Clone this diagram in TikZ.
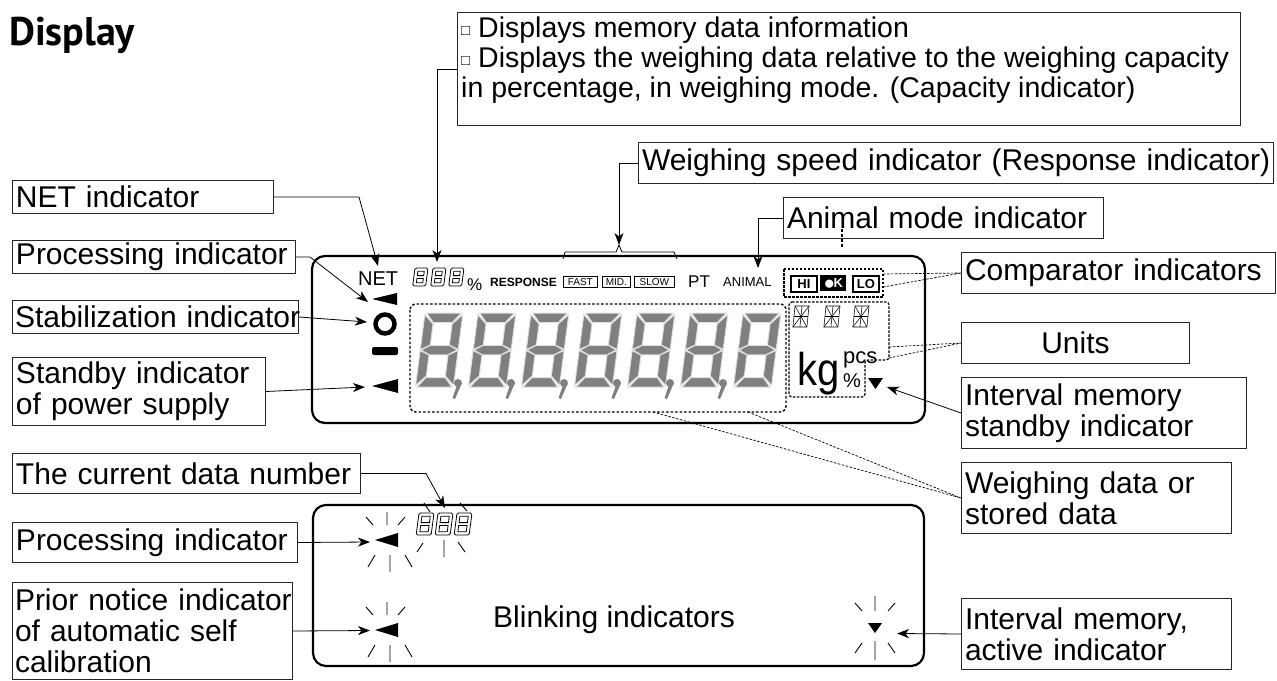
\documentclass[tikz,border=0pt]{standalone}
\usepackage{fontspec}
\usepackage{graphicx}
\setmainfont{Liberation Sans}
\newfontfamily\titlefont{PT Sans}
\usetikzlibrary{arrows.meta}
\newcommand\fs[1]{\fontsize{#1}{#1}\selectfont}
\newcommand\segpaths[1]{%
 \path[#1] (1.5,0) -- (36.5,0) -- (28.5,9.5) -- (9.5,9.5) -- cycle;
 \path[#1] (0,1.5) -- (9.5,11) -- (9.5,32) -- (0,36.5) -- cycle;
 \path[#1] (38,1.5) -- (38,36.5) -- (28.5,32) -- (28.5,11) -- cycle;
 \path[#1] (1,37) -- (9.5,32.25) -- (28.5,32.25) -- (37,37) -- (28.5,41.75) -- (9.5,41.75) -- cycle;
 \path[#1] (0,37.5) -- (9.5,42) -- (9.5,63) -- (0,72.5) -- cycle;
 \path[#1] (38,37.5) -- (38,72.5) -- (28.5,63) -- (28.5,42) -- cycle;
 \path[#1] (1.5,74) -- (9.5,64.5) -- (28.5,64.5) -- (36.5,74) -- cycle;}
\newcommand\bigdigit[2]{\begin{scope}[shift={(#1,#2)},xslant=0.13]\segpaths{seg}\end{scope}}
\newcommand\dcomma[1]{\fill[black!50] (#1,383) circle (4);
 \fill[black!50] (#1+3.5,384) -- (#1-3,399) -- (#1-5.5,398) -- (#1-1,385) -- cycle;}
\newcommand\hollow[4]{\begin{scope}[shift={(#1,#2)},xslant=0.13,line width=0.8pt]
 \draw[rounded corners=1.5pt] (0,0) rectangle (#3,#4);
 \draw (3.3,3.3) rectangle (#3-3.3,#4/2-1.4);
 \draw (3.3,#4/2+1.4) rectangle (#3-3.3,#4-3.3);\end{scope}}
\newcommand\starseg[2]{\begin{scope}[shift={(#1,#2)},xslant=0.1,line width=0.55pt]
 \draw (0,0) rectangle (14,21);
 \draw (0,10.5) -- (14,10.5) (7,0) -- (7,21);
 \draw (0,0) -- (7,10.5) -- (14,0) (0,21) -- (7,10.5) -- (14,21);\end{scope}}
\newcommand\burst[2]{\draw[ray] (#1-22,#2-23) -- (#1-15,#2-15) (#1-1,#2-28) -- (#1-1,#2-15)
 (#1+10,#2-15) -- (#1+17,#2-23) (#1-20,#2+27) -- (#1-13,#2+15) (#1+2,#2+15) -- (#1+2,#2+32)
 (#1+17,#2+15) -- (#1+24,#2+27);}
\newcommand\burstv[2]{\draw[ray] (#1-20,#2-24) -- (#1-13,#2-16) (#1,#2-31) -- (#1,#2-16)
 (#1+13,#2-16) -- (#1+20,#2-24) (#1-20,#2+26) -- (#1-13,#2+16) (#1,#2+14) -- (#1,#2+33)
 (#1+13,#2+16) -- (#1+20,#2+26);}
\begin{document}
\begin{tikzpicture}[x=1pt,y=-1pt,
 lbl/.style={draw=black!85, line width=1pt, anchor=north west, inner xsep=3.5pt, inner ysep=0pt, align=left, font=\fontsize{30}{31}\selectfont},
 con/.style={line width=0.8pt, -{Stealth[length=12pt,width=9pt,inset=3.5pt]}},
 dotl/.style={line width=0.7pt, dash pattern=on 2.5pt off 1.5pt},
 lcd/.style={line width=2.2pt, rounded corners=13pt},
 seg/.style={fill=black!50, draw=black!12, line width=1pt},
 ray/.style={line width=0.9pt},
 txt/.style={anchor=base west, inner sep=0pt},
 sbox/.style={draw, line width=0.6pt, inner sep=0pt, anchor=north west, font=\fs{10}},
 cmp/.style={inner sep=0pt, anchor=north west, minimum width=26pt, minimum height=16pt, font=\bfseries\fs{13}}]
\useasboundingbox (0,0) rectangle (1277,680);
% title
\node[txt, font=\titlefont\bfseries\fs{40}] (title) at (9,45) {Display};
% info box
\node[draw=black!85, line width=1pt, anchor=north west, minimum width=783pt, minimum height=113pt, inner sep=0pt] (info) at (457,12) {};
\node[anchor=north west, align=left, inner sep=0pt, font=\fontsize{28.5}{30}\selectfont] (infotext) at (461,17)
 {\raisebox{2pt}{\fs{15}□}\ Displays memory data information\\
  \raisebox{2pt}{\fs{15}□}\ Displays the weighing data relative to the weighing capacity\\
  in percentage, in weighing mode. (Capacity indicator)};
% right labels
\node[lbl, minimum width=635pt, minimum height=41pt, text width=628pt] (speed) at (638,142) {\mbox{Weighing speed indicator (Response indicator)}};
\node[lbl, minimum width=320pt, minimum height=41pt, text width=313pt] (animal) at (783,197) {\mbox{Animal mode indicator}};
\node[lbl, minimum width=314pt, minimum height=41pt, text width=307pt] (comp) at (961,252) {\mbox{Comparator indicators}};
\node[lbl, minimum width=228pt, minimum height=41pt, text width=221pt, align=center] (units) at (961,322) {Units};
\node[lbl, minimum width=285pt, minimum height=71pt, text width=278pt] (intsb) at (961,377) {\mbox{Interval memory}\\\mbox{standby indicator}};
\node[lbl, minimum width=270pt, minimum height=71pt, text width=263pt] (wdata) at (961,462) {\mbox{Weighing data or}\\\mbox{stored data}};
\node[lbl, minimum width=270pt, minimum height=71pt, text width=263pt] (intac) at (961,598) {\mbox{Interval memory,}\\\mbox{active indicator}};
% left labels
\node[lbl, minimum width=261pt, minimum height=33pt, text width=254pt] (netbox) at (12,180) {\mbox{NET indicator}};
\node[lbl, minimum width=283pt, minimum height=33pt, text width=276pt] (proc) at (12,240) {\mbox{Processing indicator}};
\node[lbl, minimum width=286pt, minimum height=33pt, text width=281pt, inner xsep=2.5pt] (stab) at (12,300) {\mbox{Stabilization indicator}};
\node[lbl, minimum width=253pt, minimum height=68pt, text width=246pt] (standby) at (12,357) {\mbox{Standby indicator}\\\mbox{of power supply}};
\node[lbl, minimum width=348pt, minimum height=40pt, text width=341pt] (cur) at (12,453) {\mbox{The current data number}};
\node[lbl, minimum width=285pt, minimum height=40pt, text width=278pt] (proc2) at (12,522) {\mbox{Processing indicator}};
\node[lbl, minimum width=280pt, minimum height=97pt, text width=275pt, inner xsep=2.5pt] (prior) at (12,582) {\mbox{Prior notice indicator}\\\mbox{of automatic self}\\\mbox{calibration}};
% LCD panels
\draw[lcd] (312,256) rectangle (925,423);
\draw[lcd] (313,505) rectangle (924,666);
% top LCD contents
\node[txt, font=\fs{20}] (nettxt) at (358,285) {NET};
\hollow{415}{268}{13}{18}\hollow{433}{268}{13}{18}\hollow{451}{268}{13}{18}
\node[txt, font=\fs{17}] (pcttxt) at (467,290) {\%};
\node[txt, font=\bfseries\fs{12}] (resp) at (490,286) {RESPONSE};
\node[sbox, minimum width=34pt, minimum height=11pt] (fast) at (563,276) {FAST};
\node[sbox, minimum width=28pt, minimum height=11pt] (mid) at (602,276) {MID.};
\node[sbox, minimum width=40pt, minimum height=11pt] (slow) at (634,276) {SLOW};
\node[txt, font=\fs{17}] (pt) at (688,287) {PT};
\node[txt, font=\fs{13}] (animaltxt) at (723,286) {ANIMAL};
\draw[dotl, line width=1.2pt] (784,269) rectangle (883,297);
\node[cmp, draw, line width=1.8pt] (hi) at (790,275) {HI};
\node[cmp, fill=black, text=white] (ok) at (820,275) {\smash{\raisebox{-1.5pt}{\fs{19}●}}\kern-1.5pt K};
\node[cmp, draw, line width=1.8pt] (lo) at (852,275) {LO};
\draw[dotl, line width=1.2pt, rounded corners=3pt] (789,302) -- (889,302) -- (889,360) -- (865,360) -- (865,397) -- (789,397) -- cycle;
\starseg{795}{306}\starseg{826}{306}\starseg{855}{306}
\node[txt, font=\fs{40}] (kg) at (797,385) {\scalebox{1}[1.15]{kg}};
\node[txt, font=\fs{22}] (pcs) at (843,363) {pcs};
\node[txt, font=\fs{20}] (pct2) at (843,387) {\%};
\fill (868,378) -- (883,378) -- (875.5,389) -- cycle;
% left symbols
\fill (372,299) -- (397,293) -- (397,305) -- cycle;
\draw[line width=4.5pt] (385,324) circle (9.5);
\fill[rounded corners=2pt] (372,347) rectangle (398,355);
\fill (372,386) -- (398,379) -- (398,393) -- cycle;
% main digits
\draw[dotl, line width=1.4pt, dash pattern=on 2.5pt off 2pt, rounded corners=6pt] (410,304) rectangle (786,412);
\foreach \k in {0,...,6} {\bigdigit{425+53*\k}{313}}
\foreach \k in {0,...,5} {\dcomma{458+53*\k}}
% brace
\draw[line width=0.8pt] (563,259) -- (565,252) -- (616,252) -- (619,245) -- (622,252) -- (674,252) -- (677,259);
\draw[line width=1.8pt, dash pattern=on 3pt off 2pt] (842,229) -- (842,248);
% bottom LCD contents
\fill (375,540) -- (398,533) -- (398,547) -- cycle;
\burst{388}{540}
\fill (375,630) -- (398,623) -- (398,637) -- cycle;
\burst{388}{630}
\fill (868,623) -- (882,623) -- (875,633) -- cycle;
\burstv{875}{627}
\hollow{419}{513}{15}{22}\hollow{438}{513}{15}{22}\hollow{457}{513}{15}{22}
\draw[ray] (424,503) -- (430,512) (460,503) -- (467,511) (417,552) -- (423,543) (444,540) -- (444,557) (458,542) -- (465,552);
\node[txt, font=\fs{30}] (blink) at (493,627) {Blinking indicators};
% targets
\coordinate (t888) at (437,262);
\coordinate (tbrace) at (619,245);
\coordinate (tanimal) at (758,268);
\coordinate (tnet) at (378,266);
\coordinate (tproc) at (368,302);
\coordinate (tstab) at (367,322);
\coordinate (tstandby) at (365,387);
\coordinate (tint) at (887,387);
\coordinate (tcur) at (445,508);
\coordinate (tproc2) at (370,542);
\coordinate (tprior) at (370,630.5);
\coordinate (tintac) at (897,633.5);
\coordinate (cmpA) at (883,274);
\coordinate (cmpB) at (883,287);
\coordinate (unA) at (889,347);
\coordinate (unB) at (889,358);
\coordinate (wdA) at (653,412);
\coordinate (wdB) at (748,412);
% connectors
\draw[con] (info.west) -| (t888);
\draw[con] (speed.west) -| (tbrace);
\draw[con] (animal.west) -| (tanimal);
\draw[con] (netbox.east) -- ++(85,0) -- (tnet);
\draw[con] (proc.east) -- ++(14,0) -- (tproc);
\draw[con] (stab.east) -- (tstab);
\draw[con] (standby.east) -- (tstandby);
\draw[con] (intsb.west) -- (tint);
\draw[con] (cur.east) -- ++(65,0) -- (tcur);
\draw[con] (proc2.east) -- (tproc2);
\draw[con] (prior.east) -- (tprior);
\draw[con] (intac.west) -- (tintac);
\draw[dotl] (cmpA) -- (comp.west) (cmpB) -- (comp.west);
\draw[dotl] (unA) -- (units.west) (unB) -- (units.west);
\draw[dotl] (wdA) -- (wdata.west) (wdB) -- (wdata.west);
\end{tikzpicture}
\end{document}
